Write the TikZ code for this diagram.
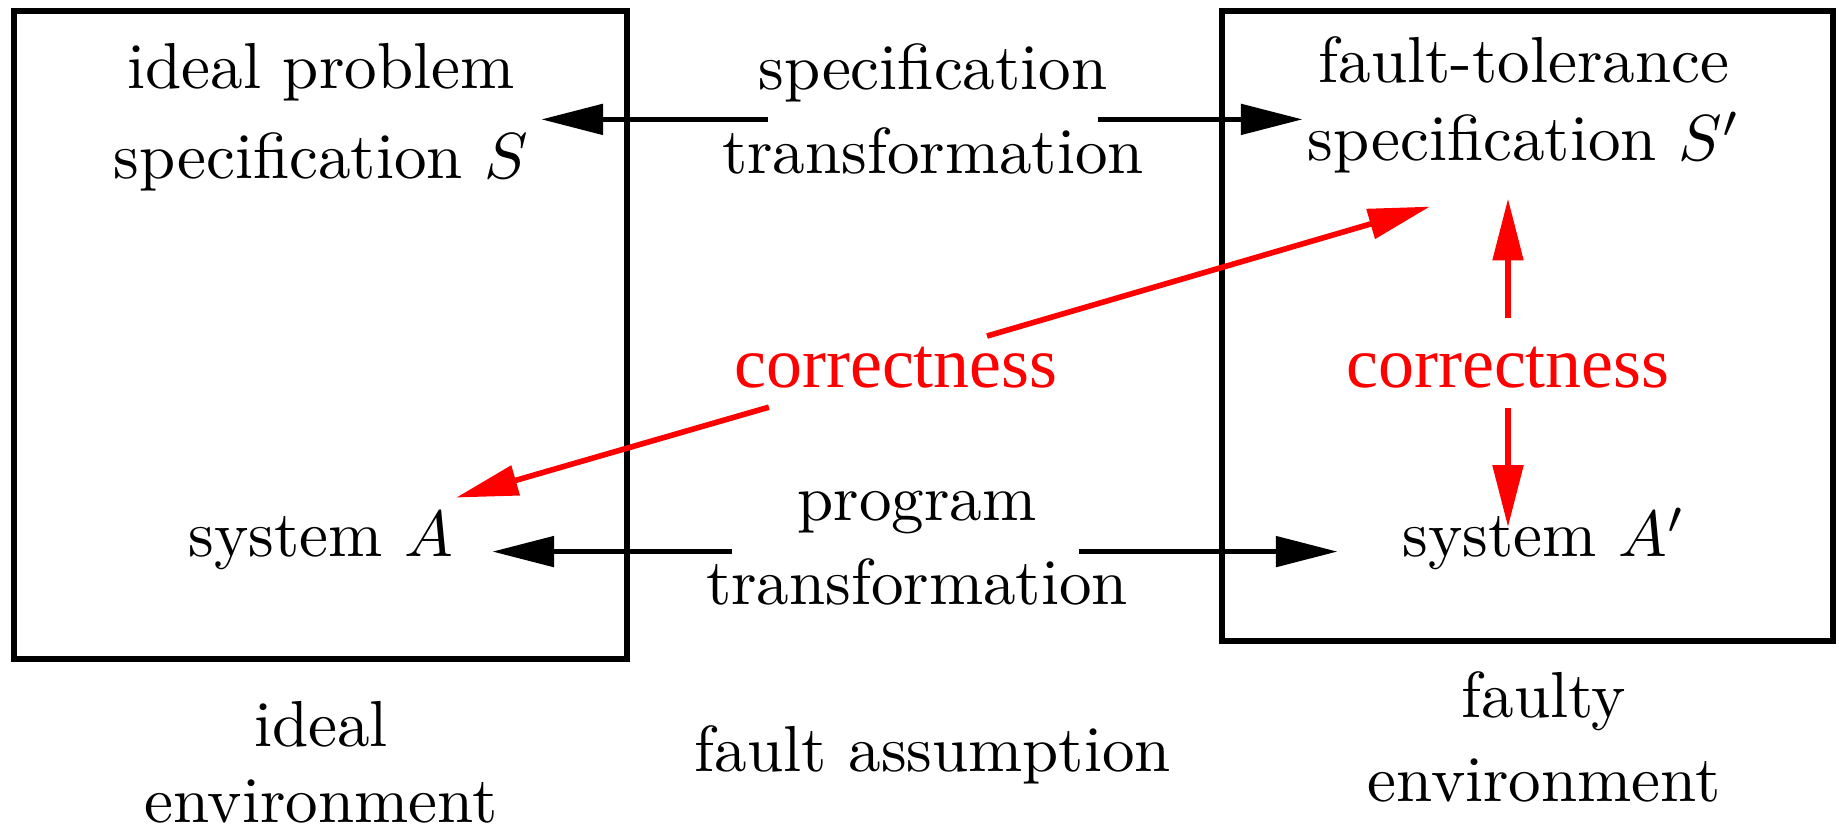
\documentclass[tikz,border=0pt]{standalone}
\usepackage{fontspec}
\newfontfamily\timesfont{Liberation Serif}
\usetikzlibrary{arrows.meta}
\begin{document}
\begin{tikzpicture}[x=0.01cm,y=-0.01cm,
    font=\fontsize{10}{12.92}\selectfont,
    envbox/.style={draw,line width=1.6pt},
    lbl/.style={align=center,anchor=base,scale=1.85,transform shape},
    redlbl/.style={lbl,text=red,font=\timesfont\fontsize{11.05}{13}\selectfont},
    arr/.style={-{Triangle[length=17.6pt,width=8.5pt]},line width=1.6pt},
    redarr/.style={arr,red}]
  \useasboundingbox (0,0) rectangle (1839,825);
  % environments
  \draw[envbox] (14,11) rectangle (627,659);
  \draw[envbox] (1222,11) rectangle (1833,641);
  % labels (placed at the baseline of their last line)
  \node[lbl] (idealS) at (321,179) {ideal problem\\[0.92pt]specification $S$};
  \node[lbl] (spectr) at (933,174) {specification\\transformation};
  \node[lbl] (ftS) at (1524,161) {fault-tolerance\\[-0.92pt]specification $S'$};
  \node[redlbl] (cmid) at (896,388) {correctness};
  \node[redlbl] (cright) at (1508,388) {correctness};
  \node[lbl] (sysA) at (321,557) {system $A$};
  \node[lbl] (prog) at (917,605) {program\\transformation};
  \node[lbl] (sysAp) at (1544,557) {system $A'$};
  \node[lbl] (idealenv) at (321,823) {ideal\\[-1.23pt]environment};
  \node[lbl] (faultas) at (933,772) {fault assumption};
  \node[lbl] (faultyenv) at (1544,802) {faulty\\environment};
  % transformations
  \draw[arr] ([shift={(69,10)}]spectr.west) coordinate (sl) -- ([xshift=-0.1cm]idealS.east |- sl);
  \draw[arr] ([shift={(-69,10)}]spectr.east) coordinate (sr) -- ([xshift=0.18cm]ftS.west |- sr);
  \draw[arr] ([shift={(49,3)}]prog.west) coordinate (pl) -- ([xshift=0.16cm]sysA.east |- pl);
  \draw[arr] ([shift={(-72,3)}]prog.east) coordinate (pr) -- ([xshift=-0.42cm]sysAp.west |- pr);
  % correctness
  \draw[redarr] ([shift={(91,11.5)}]cmid.north) -- ([shift={(-94,10)}]ftS.south);
  \draw[redarr] ([shift={(57.5,-4.5)}]cmid.south west) -- ([shift={(-20,8)}]sysA.north east);
  \draw[redarr] ([shift={(0,-6.5)}]cright.north) -- ([shift={(0,2)}]cright.north |- ftS.south);
  \draw[redarr] ([shift={(0,-3.5)}]cright.south) -- ([shift={(0,42)}]cright.south |- sysAp.north);
\end{tikzpicture}
\end{document}
